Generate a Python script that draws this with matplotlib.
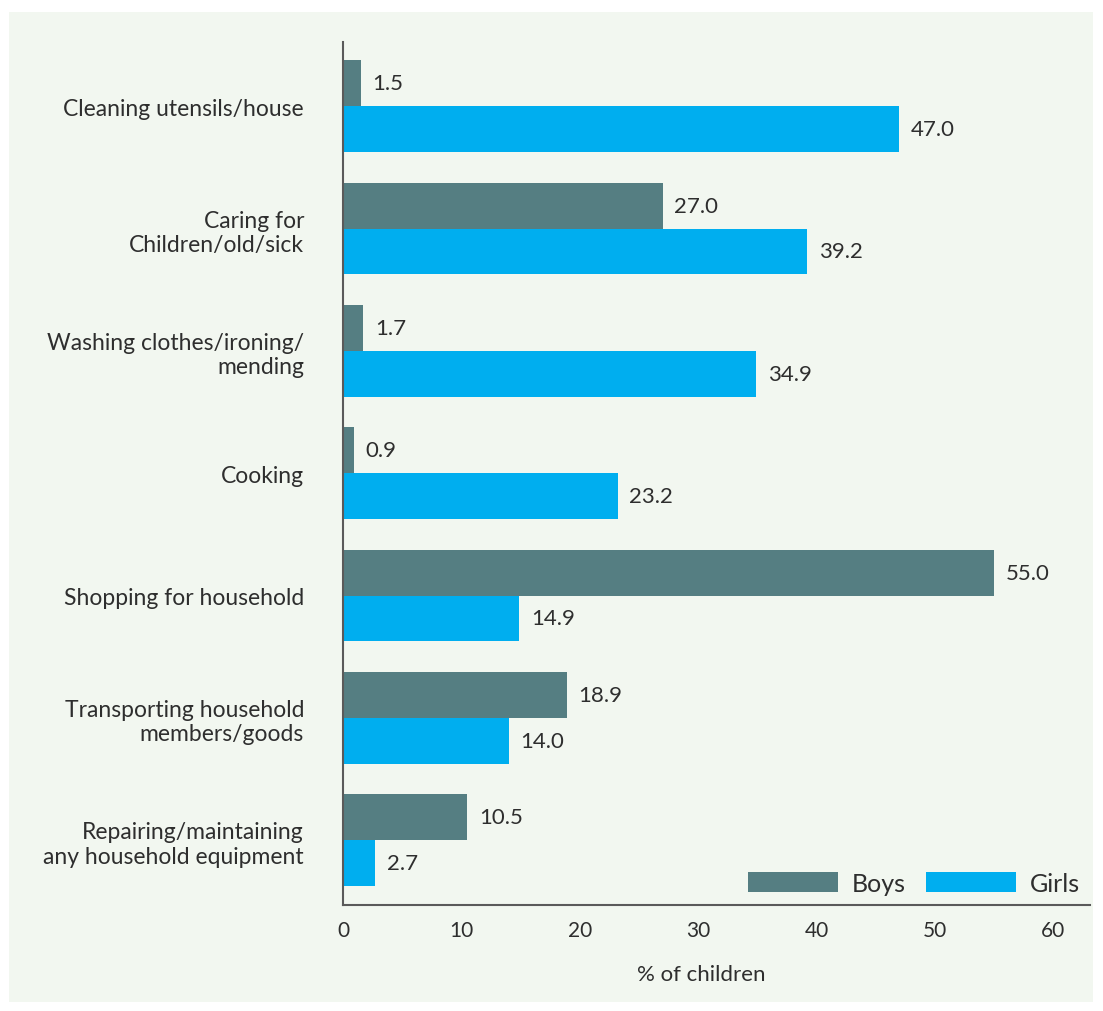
import numpy as np
import matplotlib.pyplot as plt
from matplotlib.patches import Rectangle

categories = ['Cleaning utensils/house', 'Caring for\nChildren/old/sick',
              'Washing clothes/ironing/\nmending', 'Cooking', 'Shopping for household',
              'Transporting household\nmembers/goods',
              'Repairing/maintaining\nany household equipment']
boys = [1.5, 27.0, 1.7, 0.9, 55.0, 18.9, 10.5]
girls = [47.0, 39.2, 34.9, 23.2, 14.9, 14.0, 2.7]
xticks = [0, 10, 20, 30, 40, 50, 60]

plt.rcParams['font.family'] = ['Lato', 'DejaVu Sans']
txt = '#2e2e2e'
c_boys = '#557e82'
c_girls = '#00aeef'

fig = plt.figure(figsize=(11.03, 10.12), dpi=100)
fig.patch.set_facecolor('white')
fig.patches.append(Rectangle((9/1103, 1-1003/1012), 1084/1103, 990/1012,
                             transform=fig.transFigure, facecolor='#f2f7f0',
                             edgecolor='none', zorder=-10))
ax = fig.add_axes([343/1103, 1-906/1012, 747/1103, 863/1012])
ax.set_facecolor('none')

y = np.arange(len(categories))
h = 0.375
ax.barh(y - h/2, boys, height=h, color=c_boys, label='Boys')
ax.barh(y + h/2, girls, height=h, color=c_girls, label='Girls')

for i in range(len(categories)):
    ax.text(boys[i] + 1.0, y[i] - h/2, f'{boys[i]:.1f}', va='center', ha='left',
            fontsize=16, color=txt)
    ax.text(girls[i] + 1.0, y[i] + h/2, f'{girls[i]:.1f}', va='center', ha='left',
            fontsize=16, color=txt)

ax.set_xlim(0, 63.1)
ax.set_ylim(6.53, -0.525)
ax.set_yticks(y)
ax.set_yticklabels(categories, fontsize=16.5, color=txt, ha='right')
ax.set_xticks(xticks)
ax.set_xticklabels([str(t) for t in xticks], fontsize=15, color=txt)
ax.tick_params(axis='y', length=0, pad=28)
ax.tick_params(axis='x', length=0, pad=11)
ax.set_xlabel('% of children', fontsize=16, color=txt)
ax.xaxis.set_label_coords(0.48, -0.068)

for s in ['top', 'right']:
    ax.spines[s].set_visible(False)
for s in ['left', 'bottom']:
    ax.spines[s].set_color('#5a5a5a')
    ax.spines[s].set_linewidth(1.5)

ax.legend(loc='lower right', ncol=2, frameon=False, fontsize=18,
          handlelength=3.6, handleheight=0.85, columnspacing=0.8,
          handletextpad=0.55, borderaxespad=0.0, labelcolor=txt)

fig.savefig('out.png', dpi=100)
